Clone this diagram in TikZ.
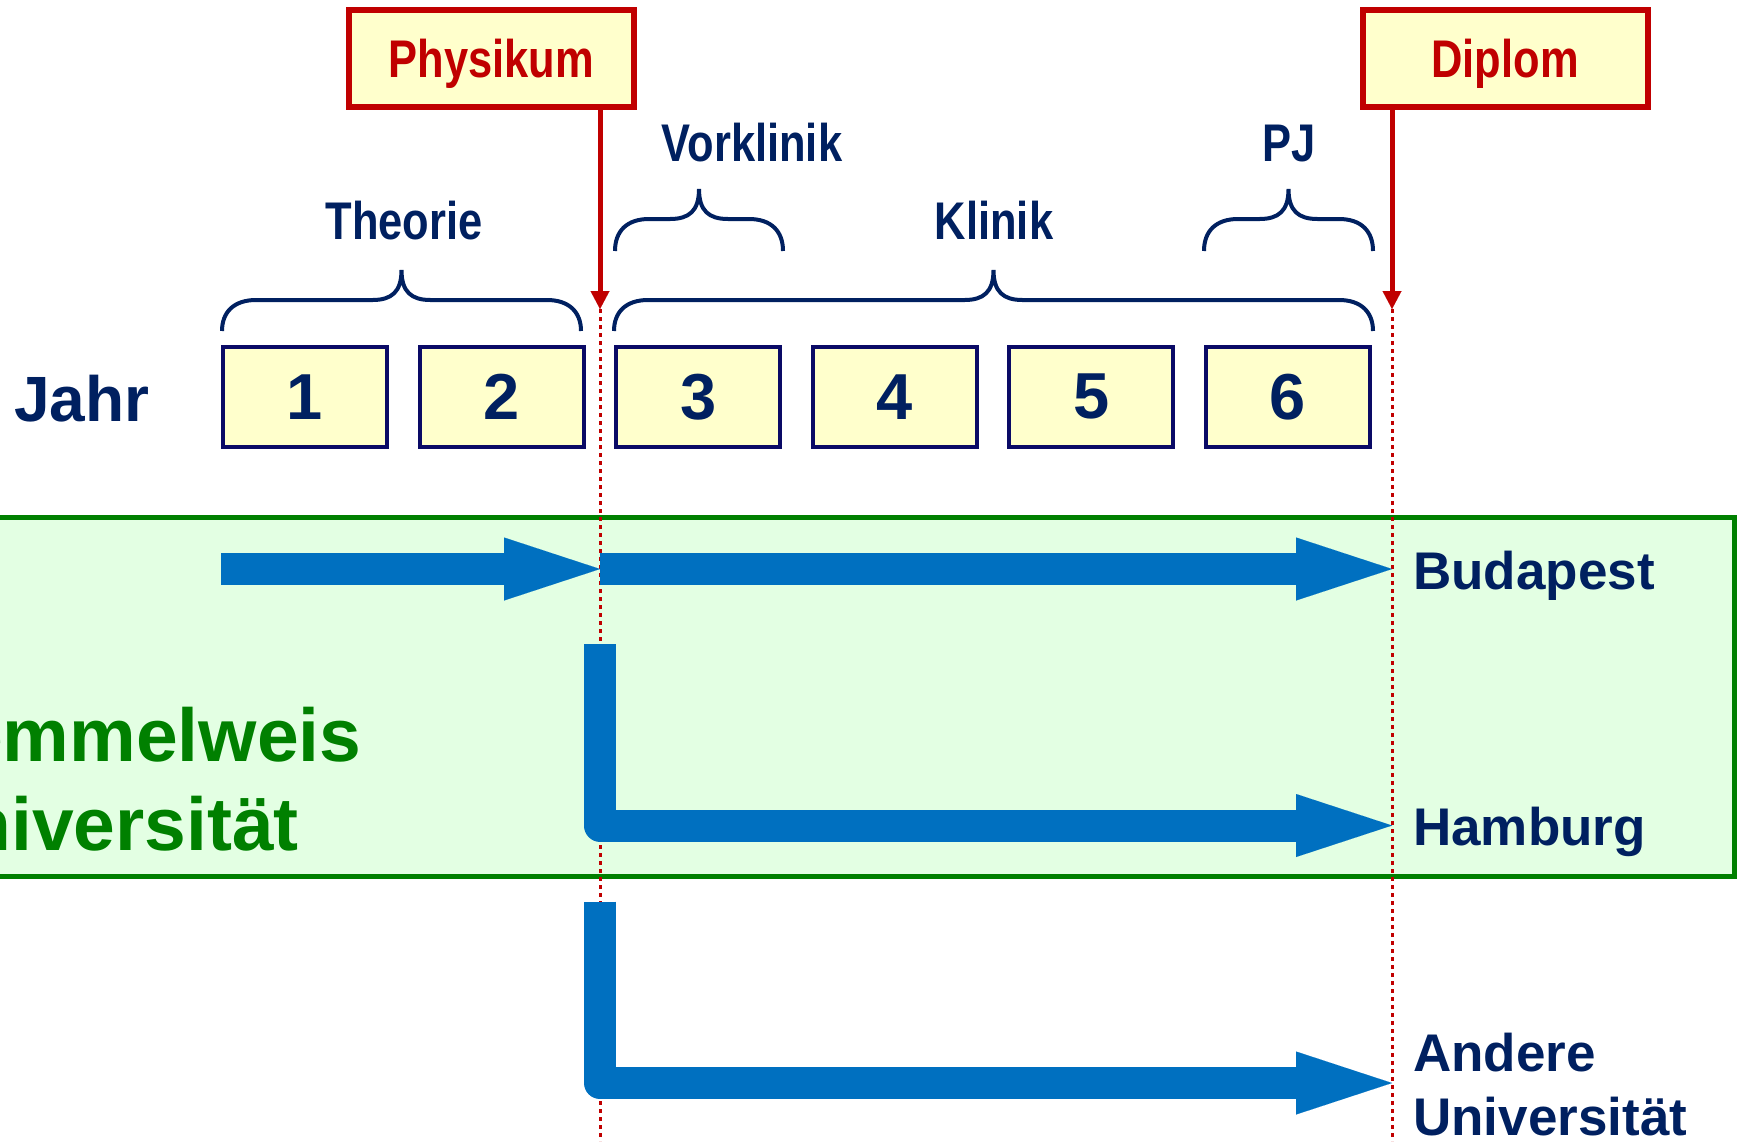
\documentclass[tikz,border=0pt]{standalone}
\usepackage{fontspec}
\setmainfont{Liberation Sans}
\newfontfamily\narrowfont{Liberation Sans}[FakeStretch=0.82]
\usetikzlibrary{arrows.meta}
\definecolor{navy}{HTML}{002060}
\definecolor{boxnavy}{HTML}{0A0A66}
\definecolor{dred}{HTML}{C00000}
\definecolor{lyellow}{HTML}{FFFFCC}
\definecolor{barblue}{HTML}{0070C0}
\definecolor{dgreen}{HTML}{008000}
\definecolor{lgreen}{HTML}{E3FFE3}
\newcommand{\drawmybrace}[6]{% L R M yEnd yH yTip
  \draw[bracestyle] (#1,#4) .. controls (#1,#5+12) and (#1+12,#5) .. (#1+34,#5)
    -- (#3-29,#5) .. controls (#3-10,#5) and (#3,#5-8) .. (#3,#6)
    .. controls (#3,#5-8) and (#3+10,#5) .. (#3+29,#5)
    -- (#2-34,#5) .. controls (#2-12,#5) and (#2,#5+12) .. (#2,#4);}
\begin{document}
\begin{tikzpicture}[x=1pt,y=-1pt,
  yearbox/.style={draw=boxnavy, line width=4pt, fill=lyellow, minimum width=164pt,
    minimum height=100pt, inner sep=0pt, text=navy,
    font=\bfseries\fontsize{65}{70}\selectfont},
  milestone/.style={draw=dred, line width=6pt, fill=lyellow, minimum width=285pt,
    minimum height=97pt, inner sep=0pt, text depth=0pt, text=dred,
    font=\narrowfont\bfseries\fontsize{53}{60}\selectfont},
  phase/.style={inner sep=0pt, anchor=base, text=navy,
    font=\narrowfont\bfseries\fontsize{53}{60}\selectfont},
  dest/.style={inner sep=0pt, anchor=base west, text=navy, align=left,
    font=\bfseries\fontsize{53}{64}\selectfont},
  bracestyle/.style={draw=navy, line width=4pt},
  redarrow/.style={draw=dred, line width=5pt,
    -{Triangle[length=18pt,width=19pt,line width=0.01pt]}},
  dotline/.style={draw=dred, line width=3pt, dash pattern=on 4pt off 4pt},
  bluearrow/.style={draw=barblue, line width=32pt, line join=round,
    -{Triangle[length=96pt,width=63pt,line width=0.01pt]}},
  uni/.style={draw=dgreen, line width=5pt, fill=lgreen}
]
\useasboundingbox (0,0) rectangle (1744,1141);

% University area
\draw[uni] (-20,517) rectangle (1734.5,876);
\node[inner sep=0pt, anchor=base west, align=left, text=dgreen,
  font=\bfseries\fontsize{75}{89}\selectfont] (semm) at (-89,850) {Semmelweis\\Universität};

% milestones
\node[milestone] (phys) at (491.5,58.5) {Physikum};
\node[milestone] (dipl) at (1505,58.5) {Diplom};
\coordinate (p) at (600,309);
\coordinate (d) at (1392,309);
\coordinate (pbot) at (600,1141);
\coordinate (dbot) at (1392,1141);

% years
\node[inner sep=0pt, anchor=base west, text=navy, font=\bfseries\fontsize{64}{70}\selectfont] (jahr) at (14,421) {Jahr};
\foreach \i/\x in {1/305,2/501.6,3/698.2,4/894.8,5/1091.4,6/1288}{
  \node[yearbox] (y\i) at (\x,396.7) {\i};
}

% braces and phase labels
\drawmybrace{222}{581}{401.5}{331}{300}{270}
\drawmybrace{614}{1373}{993.5}{331}{300}{270}
\drawmybrace{615}{783}{699}{251}{219}{189}
\drawmybrace{1204}{1373}{1288.5}{251}{219}{189}
\node[phase] (theorie) at (404,239) {Theorie};
\node[phase] (klinik) at (994,239) {Klinik};
\node[phase] (vork) at (752,161) {Vorklinik};
\node[phase] (pj) at (1289,161) {PJ};

% dotted markers
\draw[dotline] (p) -- (pbot);
\draw[dotline] (d) -- (dbot);

% paths
\coordinate (a1) at (600,569);
\coordinate (a1e) at (d |- a1);
\coordinate (h0) at (600,644);
\coordinate (h1) at (600,825.5);
\coordinate (h1e) at (d |- h1);
\coordinate (o0) at (600,901.5);
\coordinate (o1) at (600,1083);
\coordinate (o1e) at (d |- o1);
\draw[bluearrow] (y1.west |- a1) -- (a1);
\draw[bluearrow] (a1) -- (a1e);
\draw[bluearrow] (h0) -- (h1) -- (h1e);
\draw[bluearrow] (o0) -- (o1) -- (o1e);

% destinations
\node[dest] (buda) at (1413,589) {Budapest};
\node[dest] (hamb) at (1413,845.5) {Hamburg};
\node[dest] (andere) at (1413,1135) {Andere\\Universität};

% red milestone arrows
\draw[redarrow] (phys.south -| p) -- (p);
\draw[redarrow] (dipl.south -| d) -- (d);
\end{tikzpicture}
\end{document}
